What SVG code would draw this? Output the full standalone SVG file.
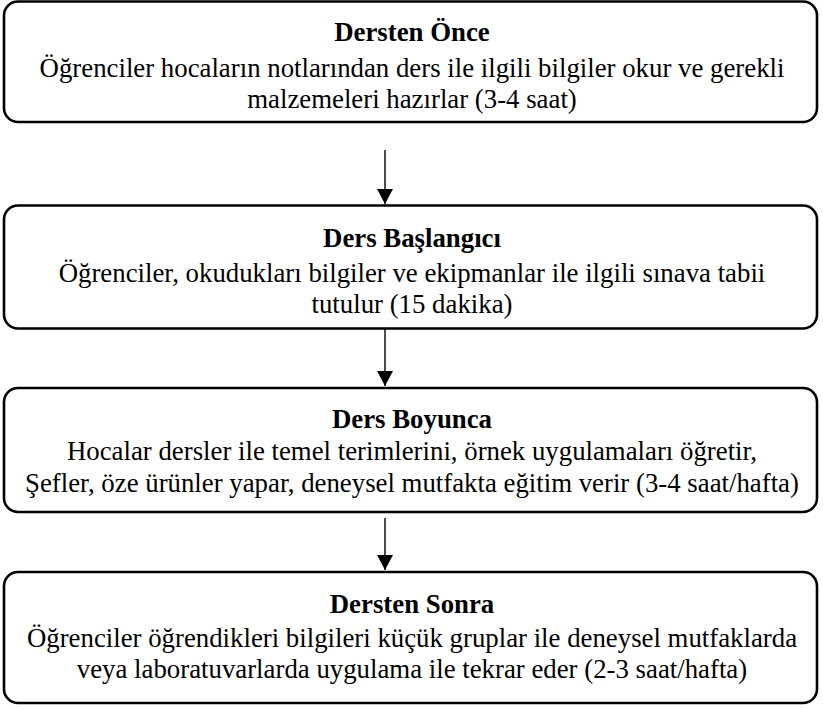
<svg xmlns="http://www.w3.org/2000/svg" width="823" height="709" viewBox="0 0 823 709">
  <style>
    .box { fill: #ffffff; stroke: #000000; stroke-width: 2.6; }
    text { font-family: 'Liberation Serif', 'Times New Roman', serif; font-size: 26.8px; fill: #000000; text-anchor: middle; }
    .title { font-weight: bold; }
    .conn { stroke: #000000; stroke-width: 1.4; fill: none; }
  </style>
  <defs>
    <marker id="arrow" markerUnits="userSpaceOnUse" markerWidth="16" markerHeight="16" refX="15" refY="8" orient="auto">
      <path d="M0,0 L15,8 L0,16 Z" fill="#000000"/>
    </marker>
  </defs>
  <rect width="823" height="709" fill="#ffffff"/>

  <g id="connectors">
    <line class="conn" x1="385" y1="150" x2="385" y2="204" marker-end="url(#arrow)"/>
    <line class="conn" x1="385" y1="329" x2="385" y2="386" marker-end="url(#arrow)"/>
    <line class="conn" x1="385" y1="518" x2="385" y2="570" marker-end="url(#arrow)"/>
  </g>

  <g id="dersten-once">
    <rect class="box" x="4" y="1.5" width="813" height="120.5" rx="14" ry="14"/>
    <text class="title" x="412" y="41">Dersten Önce</text>
    <text x="412" y="77">Öğrenciler hocaların notlarından ders ile ilgili bilgiler okur ve gerekli</text>
    <text x="412" y="108">malzemeleri hazırlar (3-4 saat)</text>
  </g>

  <g id="ders-baslangici">
    <rect class="box" x="4" y="205.5" width="813" height="123" rx="14" ry="14"/>
    <text class="title" x="412" y="247">Ders Başlangıcı</text>
    <text x="412" y="282">Öğrenciler, okudukları bilgiler ve ekipmanlar ile ilgili sınava tabii</text>
    <text x="412" y="313">tutulur (15 dakika)</text>
  </g>

  <g id="ders-boyunca">
    <rect class="box" x="4" y="388" width="813" height="124" rx="14" ry="14"/>
    <text class="title" x="412" y="428">Ders Boyunca</text>
    <text x="412" y="460">Hocalar dersler ile temel terimlerini, örnek uygulamaları öğretir,</text>
    <text x="412" y="492">Şefler, öze ürünler yapar, deneysel mutfakta eğitim verir (3-4 saat/hafta)</text>
  </g>

  <g id="dersten-sonra">
    <rect class="box" x="4" y="572" width="813" height="131" rx="14" ry="14"/>
    <text class="title" x="412" y="613">Dersten Sonra</text>
    <text x="412" y="647">Öğrenciler öğrendikleri bilgileri küçük gruplar ile deneysel mutfaklarda</text>
    <text x="412" y="678">veya laboratuvarlarda uygulama ile tekrar eder (2-3 saat/hafta)</text>
  </g>
</svg>
